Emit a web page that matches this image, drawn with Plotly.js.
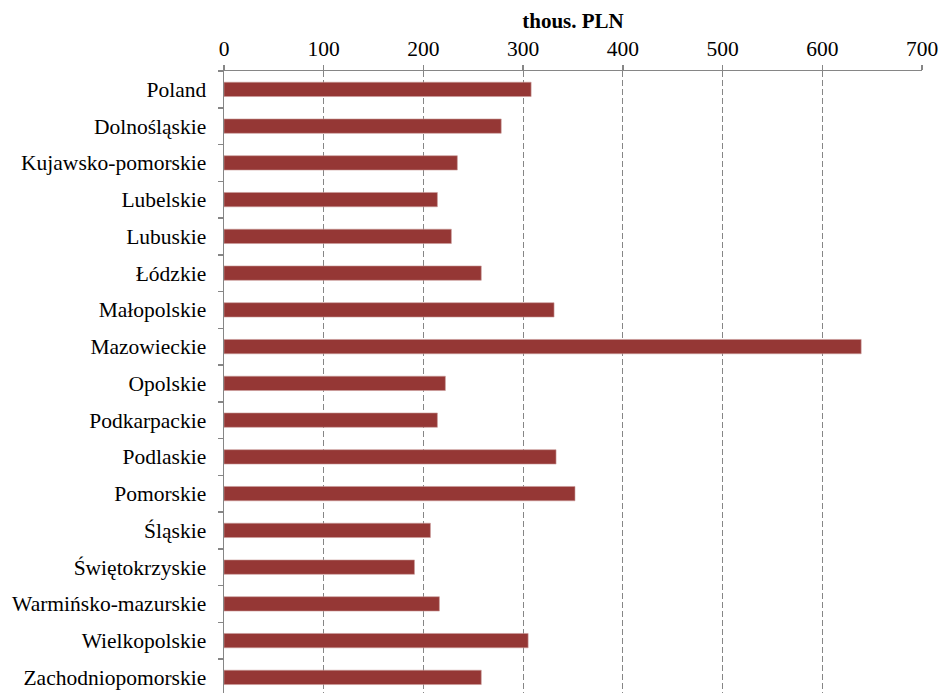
<!DOCTYPE html>
<html>
<head>
<meta charset="utf-8">
<script src="https://cdn.plot.ly/plotly-3.0.1.min.js"></script>
<style>html,body{margin:0;padding:0;background:#fff;}#chart{width:941px;height:693px;}</style>
</head>
<body>
<div id="chart"></div>
<script>
const regions = ["Poland","Dolnośląskie","Kujawsko-pomorskie","Lubelskie","Lubuskie","Łódzkie","Małopolskie","Mazowieckie","Opolskie","Podkarpackie","Podlaskie","Pomorskie","Śląskie","Świętokrzyskie","Warmińsko-mazurskie","Wielkopolskie","Zachodniopomorskie"];
const values = [308, 278, 234, 214, 228, 258, 331, 639, 222, 214, 333, 352, 207, 191, 216, 305, 258];
const xTicks = [0, 100, 200, 300, 400, 500, 600, 700];
const axisTitle = "thous. PLN";

const FONT = "Liberation Serif, Times New Roman, serif";
const trace = {
  type: "bar",
  orientation: "h",
  x: values,
  y: regions,
  width: 0.39,
  marker: {color: "#953735", line: {color: "#c99a99", width: 0.6}},
  hoverinfo: "x+y"
};

const layout = {
  width: 941, height: 693,
  margin: {l: 224, r: 19, t: 71, b: 0, pad: 0},
  paper_bgcolor: "#fff", plot_bgcolor: "#fff",
  font: {family: FONT, size: 21.5, color: "#000"},
  showlegend: false,
  bargap: 0.6,
  xaxis: {
    side: "top",
    range: [0, 700],
    tickvals: xTicks,
    ticktext: xTicks.map(String),
    showline: true, linecolor: "#868686", linewidth: 1.5,
    ticks: "outside", ticklen: 5, tickcolor: "#868686", tickwidth: 1.5,
    ticklabelstandoff: 0,
    showgrid: true, gridcolor: "#868686", gridwidth: 1, griddash: "6px,3px",
    zeroline: false,
    tickfont: {family: FONT, size: 21.5},
    title: {text: "<b>" + axisTitle + "</b>", font: {family: FONT, size: 21}, standoff: 2}
  },
  yaxis: {
    type: "category",
    categoryorder: "array",
    categoryarray: regions,
    range: [16.425, -0.5],
    showline: true, linecolor: "#868686", linewidth: 1.5,
    ticks: "outside", ticklen: 5, tickcolor: "#868686", tickwidth: 1.5,
    tickson: "boundaries",
    showgrid: false, zeroline: false,
    ticklabelstandoff: 12,
    tickfont: {family: FONT, size: 21.5}
  }
};

Plotly.newPlot("chart", [trace], layout, {staticPlot: true, displayModeBar: false});
</script>
</body>
</html>
